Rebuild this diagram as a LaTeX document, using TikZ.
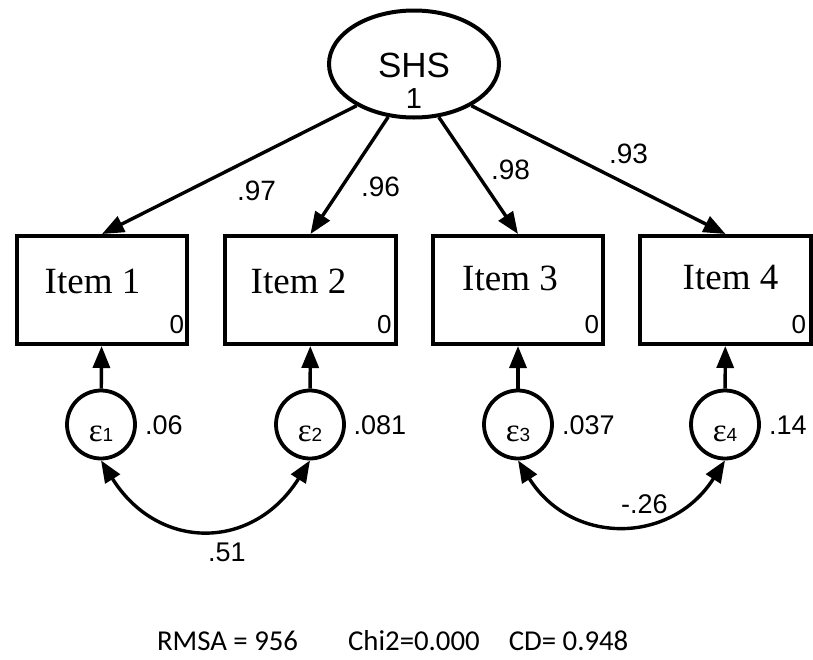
\documentclass[tikz,border=0pt]{standalone}
\usepackage{fontspec}
\setmainfont{Liberation Serif}
\newfontfamily\arialf{Liberation Sans}
\newfontfamily\calf{Carlito}
\usetikzlibrary{arrows.meta,shapes.geometric}
\begin{document}
\begin{tikzpicture}[x=1pt,y=-1pt,
  every node/.style={inner sep=0pt, outer sep=0pt},
  latent/.style={ellipse, draw, line width=4pt, minimum width=170pt, minimum height=107pt, outer sep=2pt},
  obs/.style={rectangle, draw, line width=4pt, minimum width=170.5pt, minimum height=108pt, outer sep=2pt},
  err/.style={circle, draw, line width=3.8pt, minimum size=68pt, outer sep=1.9pt},
  loadarr/.style={line width=3.4pt, -{Triangle[length=22pt,width=17pt]}},
  covarr/.style={line width=3.4pt, {Triangle[length=22pt,width=17pt]}-{Triangle[length=22pt,width=17pt]}},
  itemlab/.style={anchor=base, font=\fontsize{37}{40}\selectfont},
  zerolab/.style={anchor=base east, font=\arialf\fontsize{26}{29}\selectfont},
  varlab/.style={anchor=base west, font=\arialf\fontsize{27}{30}\selectfont},
  loadlab/.style={anchor=base west, font=\arialf\fontsize{28}{31}\selectfont},
  covlab/.style={anchor=base west, font=\arialf\fontsize{27}{30}\selectfont},
  epslab/.style={anchor=base, font=\fontsize{33}{36}\selectfont},
  subdig/.style={}
]
\useasboundingbox (0,0) rectangle (813,659);

% latent variable
\node[latent] (shs) at (414,64) {};
\node[anchor=base, font=\arialf\fontsize{35}{38}\selectfont] (shst) at (414,77) {SHS};
\node[anchor=base, font=\arialf\fontsize{29}{32}\selectfont] (shsv) at (414,108) {1};

% observed items
\node[obs] (i1) at (102,290) {};
\node[obs] (i2) at (310.5,290) {};
\node[obs] (i3) at (518,290) {};
\node[obs] (i4) at (725.5,290) {};
\node[itemlab] (i1t) at (92.5,293) {Item 1};
\node[itemlab] (i2t) at (298.5,293) {Item 2};
\node[itemlab] (i3t) at (510,290) {Item 3};
\node[itemlab] (i4t) at (730.5,289) {Item 4};
\node[zerolab] (z1) at (184,333) {0};
\node[zerolab] (z2) at (391.5,333) {0};
\node[zerolab] (z3) at (599,333) {0};
\node[zerolab] (z4) at (806,333) {0};

% errors
\node[err] (e1) at (101,424.5) {};
\node[err] (e2) at (310,424.5) {};
\node[err] (e3) at (518,424.5) {};
\node[err] (e4) at (725,424.5) {};
\node[epslab] (e1t) at (101,441) {ε{\arialf\fontsize{19}{22}\selectfont 1}};
\node[epslab] (e2t) at (310,441) {ε{\arialf\fontsize{19}{22}\selectfont 2}};
\node[epslab] (e3t) at (518,441) {ε{\arialf\fontsize{19}{22}\selectfont 3}};
\node[epslab] (e4t) at (725,441) {ε{\arialf\fontsize{19}{22}\selectfont 4}};
\node[varlab] (v1) at (145,434) {.06};
\node[varlab] (v2) at (353.5,434) {.081};
\node[varlab] (v3) at (562,434) {.037};
\node[varlab] (v4) at (769,434) {.14};

% loadings
\draw[loadarr] (shs.216) -- (i1.north);
\draw[loadarr] (shs.244.7) -- (i2.north);
\draw[loadarr] (shs.295.3) -- (i3.north);
\draw[loadarr] (shs.324) -- (i4.north);
\node[loadlab] (l1) at (237,200) {.97};
\node[loadlab] (l2) at (361,196) {.96};
\node[loadlab] (l3) at (491,179) {.98};
\node[loadlab] (l4) at (609,163) {.93};

% error paths
\draw[loadarr] (e1) -- (i1);
\draw[loadarr] (e2) -- (i2);
\draw[loadarr] (e3) -- (i3);
\draw[loadarr] (e4) -- (i4);

% covariances
\draw[covarr] (e1.south) .. controls +(57,91) and +(-57,91) .. (e2.south);
\draw[covarr] (e3.south) .. controls +(53,85) and +(-54,85) .. (e4.south);
\node[covlab] (c12) at (208,561) {.51};
\node[covlab] (c34) at (621,513) {-.26};

% fit statistics
\node[anchor=base west, font=\calf\fontsize{28.8}{32}\selectfont] (fit) at (157,650)
  {RMSA = 956\hspace{50pt}Chi2=0.000\hspace{29pt}CD= 0.948};
\end{tikzpicture}
\end{document}
